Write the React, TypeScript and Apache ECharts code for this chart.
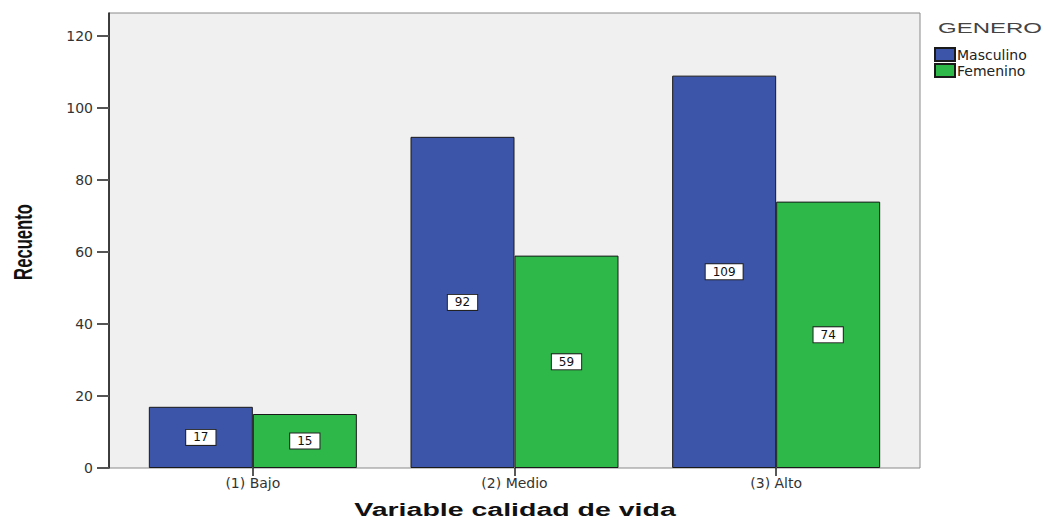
import React, { useEffect, useRef } from "react";
import * as echarts from "echarts";

const categories = ["(1) Bajo", "(2) Medio", "(3) Alto"];
const masculino = [17, 92, 109];
const femenino = [15, 59, 74];
const seriesNames = ["Masculino", "Femenino"];
const legendTitle = "GENERO";
const yAxisName = "Recuento";
const xAxisName = "Variable calidad de vida";

const BLUE = "#3C55A8";
const GREEN = "#2EB84A";
const FONT = "DejaVu Sans";

export default function App() {
  const ref = useRef<HTMLDivElement>(null);
  useEffect(() => {
    document.body.style.margin = "0";
    if (!ref.current) return;
    const chart = echarts.init(ref.current, undefined, { renderer: "svg" });
    const labelStyle = {
      show: true,
      position: "inside",
      color: "#111",
      fontFamily: FONT,
      fontSize: 12,
      backgroundColor: "#ffffff",
      borderColor: "#222",
      borderWidth: 1,
      padding: [2, 7, 1, 7],
    };
    chart.setOption({
      animation: false,
      grid: [
        {
          left: 109,
          right: 131,
          top: 13,
          bottom: 51,
          show: true,
          backgroundColor: "#F0F0F0",
          borderColor: "#8a8a8a",
          borderWidth: 1,
        },
        { left: 122, right: 144, top: 13, bottom: 51 },
      ],
      xAxis: [
        {
          gridIndex: 0,
          type: "category",
          data: categories,
          show: false,
        },
        {
          gridIndex: 1,
          type: "category",
          data: categories,
          axisLine: { show: false },
          axisTick: {
            show: true,
            alignWithLabel: true,
            length: 8,
            lineStyle: { color: "#222", width: 1.5 },
          },
          axisLabel: {
            color: "#333",
            fontFamily: FONT,
            fontSize: 14,
            margin: 8,
          },
        },
      ],
      yAxis: [
        {
          gridIndex: 0,
          type: "value",
          min: 0,
          max: 126.4,
          interval: 20,
          splitLine: { show: false },
          axisLine: { show: true, lineStyle: { color: "#111", width: 1.5 } },
          axisTick: { show: true, length: 12, lineStyle: { color: "#555", width: 2 } },
          axisLabel: {
            color: "#333",
            fontFamily: FONT,
            fontSize: 14,
            margin: 16,
            showMaxLabel: false,
          },
        },
        {
          gridIndex: 1,
          type: "value",
          min: 0,
          max: 126.4,
          interval: 20,
          show: false,
          splitLine: { show: false },
        },
      ],
      legend: {
        orient: "vertical",
        left: 929,
        top: 42,
        itemWidth: 20,
        itemHeight: 13,
        itemGap: 1,
        icon: "rect",
        textStyle: { color: "#222", fontFamily: FONT, fontSize: 14, padding: [0, 0, 0, -3] },
        data: seriesNames,
      },
      graphic: [
        {
          type: "text",
          x: 990,
          y: 28,
          scaleX: 1.6,
          style: {
            text: legendTitle,
            fill: "#444",
            font: `15px "Liberation Sans"`,
            textAlign: "center",
            textVerticalAlign: "middle",
          },
        },
        {
          type: "text",
          x: 23,
          y: 242,
          rotation: Math.PI / 2,
          scaleX: 0.64,
          style: {
            text: yAxisName,
            fill: "#111",
            font: `bold 26px "Liberation Sans"`,
            textAlign: "center",
            textVerticalAlign: "middle",
          },
        },
        {
          type: "text",
          x: 515,
          y: 509,
          scaleX: 1.5,
          style: {
            text: xAxisName,
            fill: "#111",
            font: `bold 19px "Liberation Sans"`,
            textAlign: "center",
            textVerticalAlign: "middle",
          },
        },
      ],
      series: [
        {
          name: seriesNames[0],
          type: "bar",
          xAxisIndex: 1,
          yAxisIndex: 1,
          data: masculino,
          barWidth: 104,
          barGap: "0%",
          itemStyle: { color: BLUE, borderColor: "#1a1a1a", borderWidth: 1 },
          label: labelStyle,
        },
        {
          name: seriesNames[1],
          type: "bar",
          xAxisIndex: 1,
          yAxisIndex: 1,
          data: femenino,
          barWidth: 104,
          barGap: "0%",
          itemStyle: { color: GREEN, borderColor: "#1a1a1a", borderWidth: 1 },
          label: labelStyle,
        },
      ],
    });
    return () => chart.dispose();
  }, []);
  return <div ref={ref} style={{ width: 1051, height: 519 }} />;
}
